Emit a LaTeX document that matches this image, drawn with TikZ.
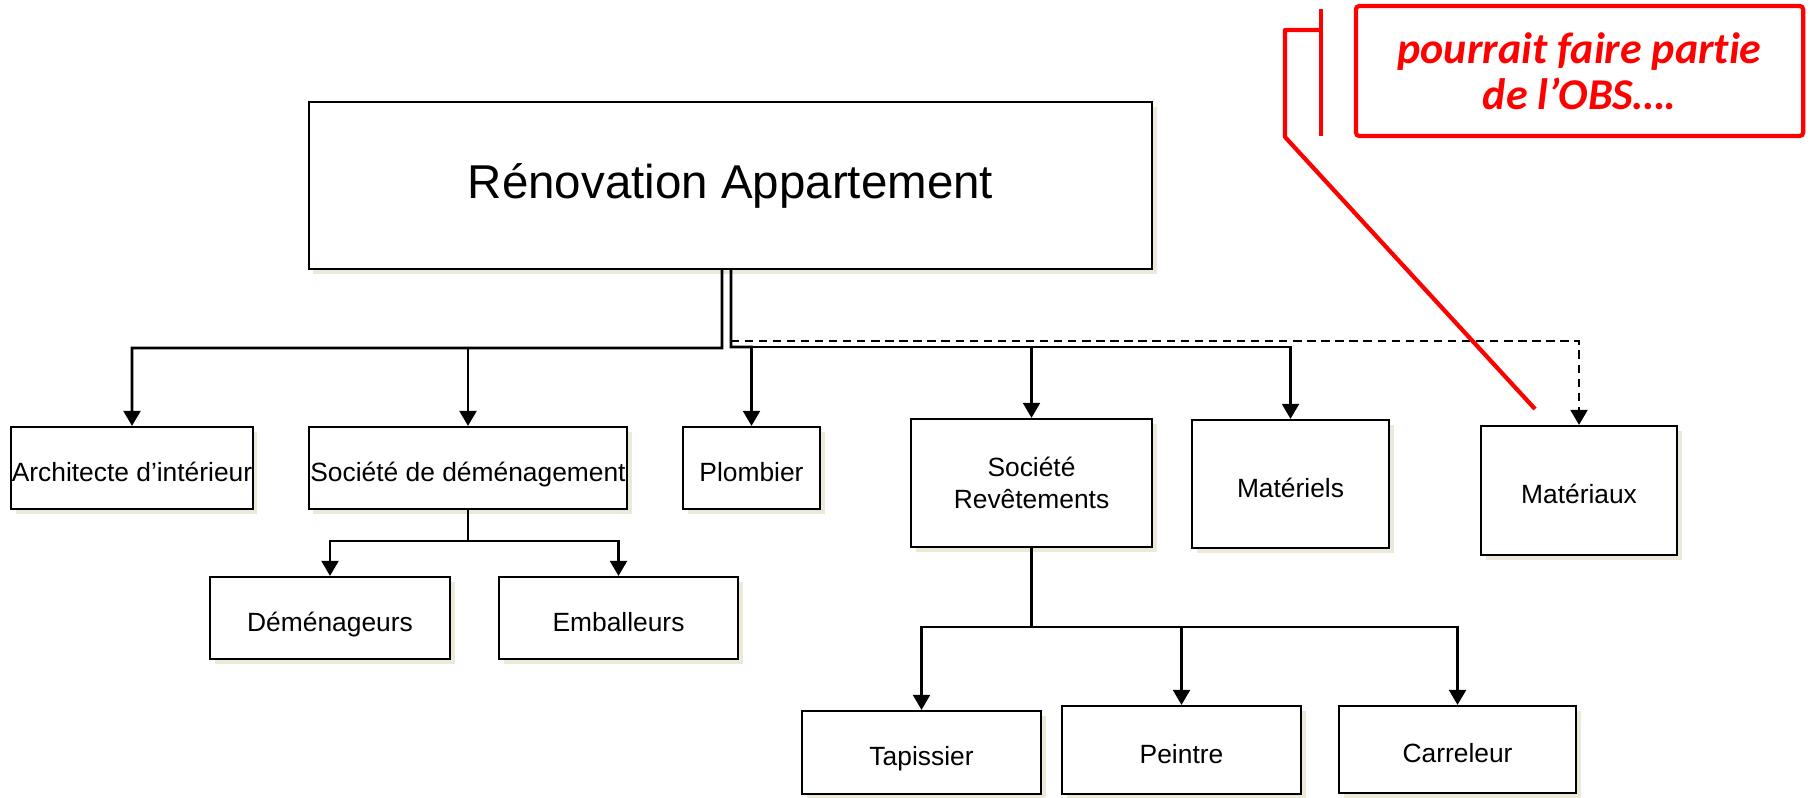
\documentclass[tikz,border=0pt]{standalone}
\usepackage{fontspec}
\setmainfont{Liberation Sans}
\newfontfamily\calibri[Ligatures=CommonOff]{Carlito}
\usepackage{tikz}
\usetikzlibrary{arrows.meta,shadows}
\definecolor{ombre}{RGB}{236,233,216}
\definecolor{rouge}{RGB}{255,0,0}
\tikzstyle{cadre}=[draw,line width=0.6pt,fill=white,inner sep=0pt,align=center,font=\fontsize{7.5pt}{9pt}\selectfont,drop shadow={shadow xshift=1.3pt,shadow yshift=-1.3pt,fill=ombre,opacity=1}]
\tikzstyle{boite}=[cadre,text height=0.95em,text depth=0.2em]
\tikzstyle{fleche}=[-{Triangle[length=4.3pt,width=4.8pt]}]
\tikzstyle{bulle}=[rouge,line width=1.2pt,line join=round]

\begin{document}
\begin{tikzpicture}[thick,x=0.01cm,y=-0.01cm]
    \useasboundingbox (0,0) rectangle (1810,797);
    % racine
    \node [boite,minimum width=8.43cm,minimum height=1.67cm,font=\fontsize{13.5pt}{16pt}\selectfont] (racine) at (730.5,185.5) {Rénovation Appartement};
    % niveau 1
    \node [boite,minimum width=2.41cm,minimum height=0.82cm] (archi)  at (132,468) {Architecte d’intérieur};
    \node [boite,minimum width=3.18cm,minimum height=0.82cm] (demenag)  at (468,468) {Société de déménagement};
    \node [boite,minimum width=1.37cm,minimum height=0.82cm] (plomb)  at (751.5,468) {Plombier};
    \node [cadre,minimum width=2.41cm,minimum height=1.28cm] (revet)  at (1031.5,483) {Société\\Revêtements};
    \node [boite,minimum width=1.97cm,minimum height=1.28cm] (materiels)  at (1290.5,484) {Matériels};
    \node [boite,minimum width=1.96cm,minimum height=1.29cm] (materiaux)  at (1579,490.5) {Matériaux};
    % niveau 2
    \node [boite,minimum width=2.40cm,minimum height=0.82cm] (demenageurs)  at (330,618) {Déménageurs};
    \node [boite,minimum width=2.39cm,minimum height=0.82cm] (emballeurs)  at (618.5,618) {Emballeurs};
    \node [boite,minimum width=2.39cm,minimum height=0.83cm] (tapissier)  at (921.5,752.5) {Tapissier};
    \node [boite,minimum width=2.39cm,minimum height=0.88cm] (peintre)  at (1181.5,750) {Peintre};
    \node [boite,minimum width=2.37cm,minimum height=0.87cm] (carreleur)  at (1457.5,749.5) {Carreleur};
    % liens
    \coordinate (gauche) at (722,348);
    \coordinate (droite) at (731,347);
    \coordinate (niveau) at (0,341);
    \coordinate (brasdem) at (468,541);
    \coordinate (brasrev) at (1031.5,627);
    \draw [fleche] ([xshift=-0.085cm]racine.south) -- (gauche) -| (archi.north);
    \draw [fleche] (gauche) -| (demenag.north);
    \draw [fleche] ([xshift=0.005cm]racine.south) -- (droite) -| (plomb.north);
    \draw [fleche] (droite) -| (revet.north);
    \draw [fleche] (droite) -| (materiels.north);
    \draw [fleche,dash pattern=on 2.4pt off 1.6pt] ([xshift=0.005cm]racine.south) |- (materiaux.north |- niveau) -- (materiaux.north);
    \draw [fleche] (demenag.south) -- (brasdem) -| (demenageurs.north);
    \draw [fleche] (brasdem) -| (emballeurs.north);
    \draw [fleche] (revet.south) -- (brasrev) -| (tapissier.north);
    \draw [fleche] (brasrev) -| (peintre.north);
    \draw [fleche] (brasrev) -| (carreleur.north);
    % bulle
    \node [draw=rouge,line width=1.2pt,rounded corners=1pt,minimum width=4.47cm,minimum height=1.30cm,text=rouge,align=center,font=\calibri\bfseries\itshape\fontsize{12.5pt}{13pt}\selectfont] (obs) at (1579.5,71) {pourrait faire partie\\de l’OBS….};
    \coordinate (barre) at (1321,9);
    \coordinate (pointe) at (1535,409);
    \draw [bulle] (barre) -- (1321,136);
    \draw [bulle] (1321,30) -- (1285,30) -- (1285,137) -- (pointe);
\end{tikzpicture}
\end{document}
